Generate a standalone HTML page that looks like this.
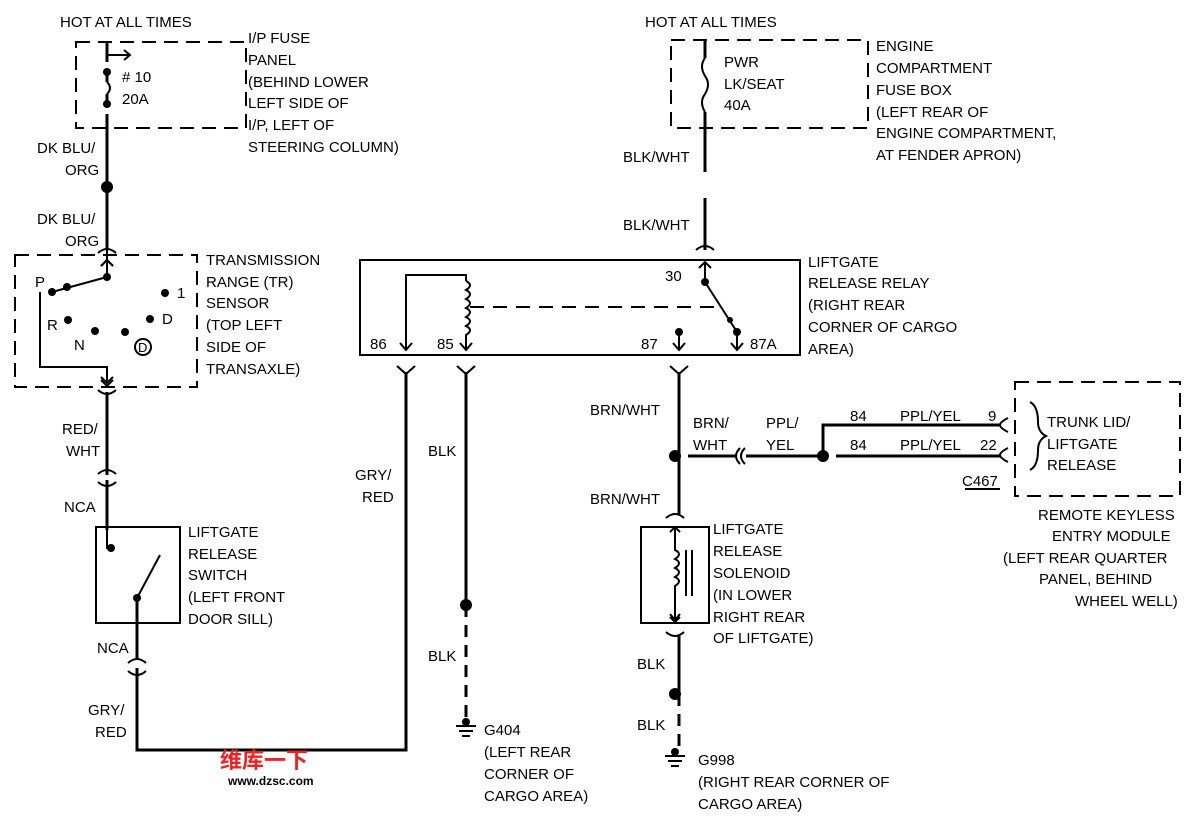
<!DOCTYPE html>
<html><head><meta charset="utf-8"><style>
body{margin:0;background:#fff}
svg text{font-family:"Liberation Sans",Arial,sans-serif;font-size:15px;fill:#000}
</style></head><body>
<svg width="1200" height="820" viewBox="0 0 1200 820" xmlns="http://www.w3.org/2000/svg">
<g fill="none" stroke="#000" stroke-width="2">
<rect x="76" y="42" width="170" height="86" stroke-dasharray="14,8"/>
<rect x="671" y="40" width="197" height="88" stroke-dasharray="14,8"/>
<rect x="15" y="255" width="182" height="132" stroke-dasharray="14,8"/>
<rect x="1015" y="382" width="165" height="114" stroke-dasharray="14,8"/>
<rect x="360" y="260" width="440" height="95"/>
<rect x="96" y="527" width="84" height="96"/>
<rect x="641" y="527" width="68" height="96"/>
</g>
<g fill="none" stroke="#000" stroke-width="3">
<path d="M107 42V62 M107 72V82 M107 94V104 M107 114V250"/>
<path d="M107 82q6 6 0 12" stroke-width="2"/>
<path d="M107 392V475 M107 480V530"/>
<path d="M137 598V660 M137 668V750H406V372"/>
<path d="M466 372V605 M679 372V456 M679 456V515 M679 636V694"/>
<path d="M466 605V720 M679 694V748" stroke-dasharray="12,8"/>
<path d="M705 40V58 M705 112V172 M705 198V250"/>
<path d="M705 58q-6 8 0 18q6 8 0 18q-6 8 0 18" stroke-width="2"/>
<path d="M688 456H735 M746 456H823 M836 456H1000 M823 456V425H1000"/>
</g>
<g fill="none" stroke="#000" stroke-width="2">
<path d="M107 55H130 M124 50l6 5l-6 5"/>
<path d="M98 253q9-8 18 0 M107 250V262 M101 266l6-6l6 6"/>
<path d="M98 390q9 8 18 0 M101 380l6 6l6-6"/>
<path d="M98 474q9-8 18 0 M98 482q9 8 18 0"/>
<path d="M128 663q9-8 18 0 M128 671q9 8 18 0"/>
<path d="M397 366l9 8l9-8 M457 366l9 8l9-8 M670 366l9 8l9-8"/>
<path d="M696 250q9-8 18 0"/>
<path d="M666 518q9-8 18 0 M670 532l5-5l5 5 M675 527V540"/>
<path d="M666 632q9 8 18 0 M670 617l5 5l5-5"/>
<path d="M745 448q-8 8 0 16 M740 448q-8 8 0 16"/>
<path d="M1008 418q-8 4 -8 7q0 3 8 7 M1008 448q-8 4 -8 7q0 3 8 7"/>
<path d="M1030 402q8 4 8 20q0 10 8 14q-8 4 -8 14q0 16 -8 20"/>
<path d="M107 258V277 M101 266l6-6l6 6"/>
<path d="M107 277L52 292 M40 292V367H107V383 M101 377l6 6l6-6"/>
<circle cx="143" cy="347" r="8"/>
<path d="M107 527V548H111 M137 598L160 555"/>
<path d="M406 350V275H466V281 M466 281q8 4 0 9q8 4 0 9q8 4 0 9q8 4 0 9q8 4 0 9q8 4 0 9V350"/>
<path d="M400 343l6 7l6-7 M460 343l6 7l6-7 M673 343l6 7l6-7 M731 343l6 7l6-7"/>
<path d="M679 332V350 M737 332V350"/>
<path d="M470 307H720" stroke-dasharray="14,9"/>
<path d="M705 262V282L737 332 M699 268l6-6l6 6"/>
<path d="M675 532V550q8 4 0 9q8 4 0 9q8 4 0 9q8 4 0 9V620 M670 614l5 6l5-6 M686 550V596 M692 550V596"/>
<path d="M456 726H476 M459 731H473 M462 736H470 M665 756H685 M668 761H682 M671 766H679"/>
<path d="M965 489H1000"/>
</g>
<g fill="#000">
<circle cx="107" cy="72" r="4"/><circle cx="107" cy="104" r="4"/>
<circle cx="107" cy="187" r="6"/>
<circle cx="107" cy="277" r="4"/><circle cx="52" cy="292" r="4"/><circle cx="67" cy="287" r="4"/>
<circle cx="165" cy="293" r="4"/><circle cx="68" cy="320" r="4"/><circle cx="95" cy="331" r="4"/><circle cx="125" cy="332" r="4"/><circle cx="150" cy="319" r="4"/>
<circle cx="111" cy="548" r="4"/><circle cx="137" cy="598" r="4"/>
<circle cx="705" cy="282" r="4"/><circle cx="737" cy="332" r="4"/><circle cx="730" cy="320" r="3"/><circle cx="679" cy="332" r="4"/>
<circle cx="466" cy="605" r="6"/><circle cx="675" cy="456" r="6"/><circle cx="823" cy="456" r="6"/><circle cx="675" cy="694" r="6"/>
<circle cx="466" cy="722" r="4"/><circle cx="675" cy="752" r="4"/>
</g>
<text x="60" y="27">HOT AT ALL TIMES</text>
<text x="122" y="82"># 10</text><text x="122" y="104">20A</text>
<text x="248" y="43">I/P FUSE</text>
<text x="248" y="65">PANEL</text><text x="248" y="87">(BEHIND LOWER</text><text x="248" y="108">LEFT SIDE OF</text><text x="248" y="130">I/P, LEFT OF</text><text x="248" y="152">STEERING COLUMN)</text>
<text x="37" y="153">DK BLU/</text><text x="65" y="175">ORG</text>
<text x="37" y="224">DK BLU/</text><text x="65" y="246">ORG</text>
<text x="206" y="265">TRANSMISSION</text><text x="206" y="287">RANGE (TR)</text><text x="206" y="308">SENSOR</text><text x="206" y="330">(TOP LEFT</text><text x="206" y="352">SIDE OF</text><text x="206" y="374">TRANSAXLE)</text>
<text x="35" y="287">P</text><text x="177" y="298">1</text><text x="47" y="330">R</text><text x="74" y="350">N</text><text x="162" y="324">D</text><text x="138" y="352" style="font-size:13px">D</text>
<text x="62" y="434">RED/</text><text x="66" y="456">WHT</text><text x="64" y="512">NCA</text>
<text x="188" y="537">LIFTGATE</text><text x="188" y="559">RELEASE</text><text x="188" y="580">SWITCH</text><text x="188" y="602">(LEFT FRONT</text><text x="188" y="624">DOOR SILL)</text>
<text x="97" y="653">NCA</text><text x="88" y="715">GRY/</text><text x="95" y="737">RED</text>
<text x="645" y="27">HOT AT ALL TIMES</text>
<text x="724" y="67">PWR</text><text x="724" y="89">LK/SEAT</text><text x="724" y="110">40A</text>
<text x="876" y="51">ENGINE</text><text x="876" y="73">COMPARTMENT</text><text x="876" y="95">FUSE BOX</text><text x="876" y="117">(LEFT REAR OF</text><text x="876" y="138">ENGINE COMPARTMENT,</text><text x="876" y="160">AT FENDER APRON)</text>
<text x="623" y="162">BLK/WHT</text><text x="623" y="230">BLK/WHT</text>
<text x="808" y="267">LIFTGATE</text><text x="808" y="288">RELEASE RELAY</text><text x="808" y="310">(RIGHT REAR</text><text x="808" y="332">CORNER OF CARGO</text><text x="808" y="354">AREA)</text>
<text x="665" y="281">30</text><text x="370" y="349">86</text><text x="437" y="349">85</text><text x="641" y="349">87</text><text x="750" y="349">87A</text>
<text x="355" y="480">GRY/</text><text x="362" y="502">RED</text>
<text x="428" y="456">BLK</text><text x="428" y="661">BLK</text>
<text x="484" y="735">G404</text><text x="484" y="757">(LEFT REAR</text><text x="484" y="779">CORNER OF</text><text x="484" y="801">CARGO AREA)</text>
<text x="590" y="415">BRN/WHT</text><text x="590" y="504">BRN/WHT</text>
<text x="693" y="428">BRN/</text><text x="693" y="450">WHT</text><text x="766" y="428">PPL/</text><text x="766" y="450">YEL</text>
<text x="850" y="421">84</text><text x="900" y="421">PPL/YEL</text><text x="988" y="421">9</text>
<text x="850" y="450">84</text><text x="900" y="450">PPL/YEL</text><text x="980" y="450">22</text>
<text x="962" y="486">C467</text>
<text x="1047" y="427">TRUNK LID/</text><text x="1047" y="449">LIFTGATE</text><text x="1047" y="470">RELEASE</text>
<text x="1038" y="520">REMOTE KEYLESS</text><text x="1052" y="541">ENTRY MODULE</text><text x="1003" y="563">(LEFT REAR QUARTER</text><text x="1039" y="584">PANEL, BEHIND</text><text x="1075" y="606">WHEEL WELL)</text>
<text x="713" y="534">LIFTGATE</text><text x="713" y="556">RELEASE</text><text x="713" y="578">SOLENOID</text><text x="713" y="600">(IN LOWER</text><text x="713" y="622">RIGHT REAR</text><text x="713" y="643">OF LIFTGATE)</text>
<text x="637" y="669">BLK</text><text x="637" y="730">BLK</text>
<text x="698" y="765">G998</text><text x="698" y="787">(RIGHT REAR CORNER OF</text><text x="698" y="809">CARGO AREA)</text>
<text x="220" y="768" style="font-family:'Liberation Sans','Noto Sans CJK SC',sans-serif;font-size:22px;font-weight:bold;fill:#e22">维库一下</text>
<text x="228" y="785" style="font-size:12px;font-weight:bold">www.dzsc.com</text>
</svg>
</body></html>
